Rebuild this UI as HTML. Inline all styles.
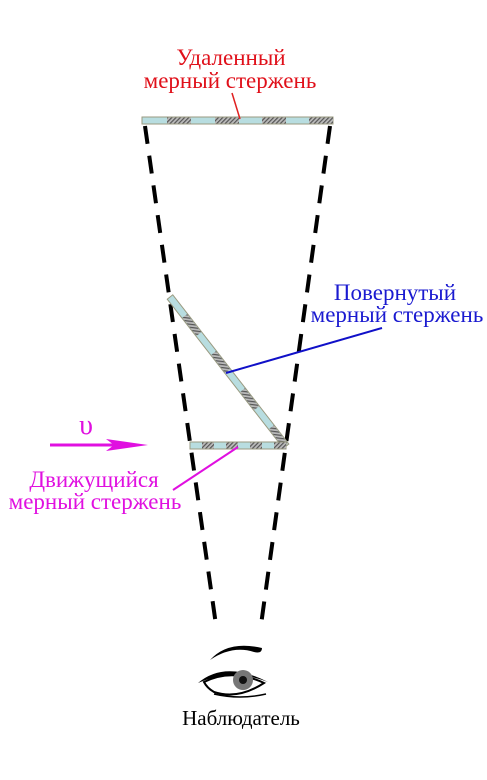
<!DOCTYPE html>
<html><head><meta charset="utf-8"><style>
html,body{margin:0;padding:0;background:#fff;width:487px;height:780px;overflow:hidden}
text{font-family:"Liberation Serif",serif;font-size:23px}
</style></head><body>
<svg width="487" height="780" viewBox="0 0 487 780">
<defs>
<pattern id="hatch" width="3" height="3" patternUnits="userSpaceOnUse" patternTransform="rotate(45)">
<rect width="3" height="3" fill="#bbb"/><rect width="1.2" height="3" fill="#555"/>
</pattern>
</defs>
<g stroke="#000" stroke-width="4" stroke-dasharray="18 12" fill="none">
<line x1="145" y1="126" x2="216" y2="625"/>
<line x1="330" y1="126" x2="261" y2="625"/>
</g>
<g>
<rect x="142" y="117" width="191" height="7" fill="#b8dde0" stroke="#9a9a80" stroke-width="1"/>
<rect x="167" y="117.5" width="24" height="6" fill="url(#hatch)"/>
<rect x="215" y="117.5" width="24" height="6" fill="url(#hatch)"/>
<rect x="262" y="117.5" width="24" height="6" fill="url(#hatch)"/>
<rect x="309" y="117.5" width="24" height="6" fill="url(#hatch)"/>
</g>
<g transform="translate(170,297) rotate(52.1)">
<rect x="0" y="-3.5" width="189" height="7" fill="#b8dde0" stroke="#9a9a80" stroke-width="1"/>
<rect x="24" y="-3" width="23" height="6" fill="url(#hatch)"/>
<rect x="71" y="-3" width="23" height="6" fill="url(#hatch)"/>
<rect x="118" y="-3" width="23" height="6" fill="url(#hatch)"/>
<rect x="165" y="-3" width="23" height="6" fill="url(#hatch)"/>
</g>
<g>
<rect x="190" y="442" width="96" height="7" fill="#b8dde0" stroke="#9a9a80" stroke-width="1"/>
<rect x="202" y="442.5" width="12" height="6" fill="url(#hatch)"/>
<rect x="226" y="442.5" width="12" height="6" fill="url(#hatch)"/>
<rect x="250" y="442.5" width="12" height="6" fill="url(#hatch)"/>
<rect x="274" y="442.5" width="12" height="6" fill="url(#hatch)"/>
</g>
<line x1="240" y1="119" x2="232" y2="93" stroke="#e02020" stroke-width="1.5"/>
<text x="231" y="65" fill="#e0101a" text-anchor="middle">Удаленный</text>
<text x="230" y="88" fill="#e0101a" text-anchor="middle">мерный стержень</text>
<line x1="226" y1="373" x2="382" y2="328" stroke="#1010c8" stroke-width="2"/>
<text x="395" y="300" fill="#1a1ad0" text-anchor="middle">Повернутый</text>
<text x="397" y="322" fill="#1a1ad0" text-anchor="middle">мерный стержень</text>
<line x1="238" y1="447" x2="173" y2="490" stroke="#e010e0" stroke-width="2"/>
<g>
<line x1="50" y1="445" x2="115" y2="445" stroke="#e010e0" stroke-width="3"/>
<polygon points="106,439 148,445 106,451 114,445" fill="#e010e0"/>
</g>
<text x="86" y="434" fill="#e010e0" text-anchor="middle" style="font-size:28px">υ</text>
<text x="94" y="487" fill="#e010e0" text-anchor="middle">Движущийся</text>
<text x="95" y="509" fill="#e010e0" text-anchor="middle">мерный стержень</text>
<g>
<path d="M210,660 Q228,640 262,648 Q262,654 254,652 Q232,645 210,660Z" fill="#000"/>
<path d="M198,683 Q225,660 268,682 Q232,668 198,683Z" fill="#000"/>
<path d="M204,682 Q232,668 264,683 Q238,700 214,692 Q207,688 204,682Z" fill="#fff" stroke="#000" stroke-width="2"/>
<circle cx="243" cy="680" r="10" fill="#777"/>
<circle cx="243" cy="680" r="4" fill="#111"/>
<path d="M214,694 Q240,700 266,694" stroke="#000" stroke-width="1.5" fill="none"/>
</g>
<text x="241" y="725" fill="#000" text-anchor="middle" style="font-size:21px">Наблюдатель</text>
</svg>
</body></html>
